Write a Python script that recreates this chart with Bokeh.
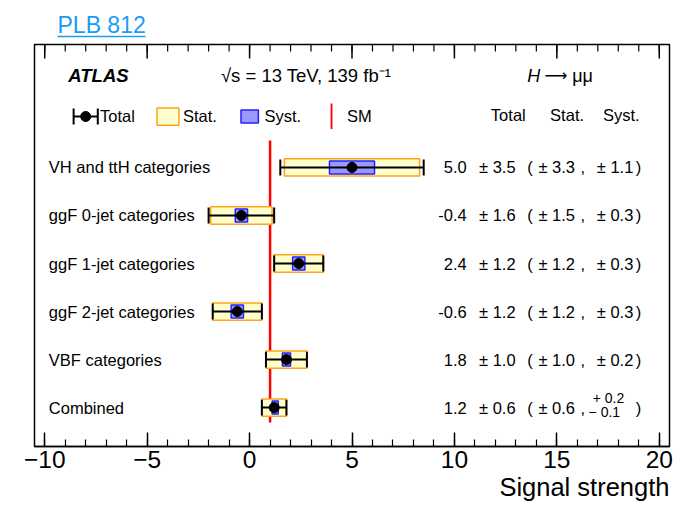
import numpy as np
from bokeh.plotting import figure
from bokeh.models import Range1d, LinearAxis, FixedTicker, Title, ColumnDataSource
from bokeh.layouts import column
from bokeh.core.properties import value
from bokeh.embed import file_html
from bokeh.resources import INLINE

# ---------------- data ----------------
categories = ["VH and ttH categories", "ggF 0-jet categories", "ggF 1-jet categories",
              "ggF 2-jet categories", "VBF categories", "Combined"]
mu = [5.0, -0.4, 2.4, -0.6, 1.8, 1.2]
tot_err = [3.5, 1.6, 1.2, 1.2, 1.0, 0.6]
stat_err = [3.3, 1.5, 1.2, 1.2, 1.0, 0.6]
syst_up = [1.1, 0.3, 0.3, 0.3, 0.2, 0.2]
syst_dn = [1.1, 0.3, 0.3, 0.3, 0.2, 0.1]
sm_value = 1.0
x_ticks = [-10, -5, 0, 5, 10, 15, 20]
x_tick_labels = ["\u221210", "\u22125", "0", "5", "10", "15", "20"]
x_minor_ticks = list(range(-10, 21))

FONT = value("Liberation Sans")
YELLOW = "#ffffcc"
ORANGE = "#ffa31a"
BLUE_FILL = "#9999ff"
BLUE_LINE = "#2222ff"

n = len(categories)
ypos = np.arange(n)[::-1].astype(float)  # rows top to bottom
mu_a = np.array(mu)
tot_a = np.array(tot_err)
stat_a = np.array(stat_err)
su = np.array(syst_up)
sd = np.array(syst_dn)

src = ColumnDataSource(dict(
    y=ypos, mu=mu_a,
    tot_lo=mu_a - tot_a, tot_hi=mu_a + tot_a,
    st_lo=mu_a - stat_a, st_hi=mu_a + stat_a,
    sy_lo=mu_a - sd, sy_hi=mu_a + su,
    st_bot=ypos - 0.18, st_top=ypos + 0.18,
    sy_bot=ypos - 0.135, sy_top=ypos + 0.135,
    cap_bot=ypos - 0.165, cap_top=ypos + 0.165,
    label=categories,
    central=[f"{v:.1f}" for v in mu],
    tot_txt=[f"\u00b1 {v:.1f}" for v in tot_err],
    stat_txt=[f"\u00b1 {v:.1f}" for v in stat_err],
))

# ---------------- top strip with reference link ----------------
# (frame aligned with the main plot's frame: page pixels 34..669)
ptop = figure(width=684, height=40, x_range=Range1d(34, 669), y_range=Range1d(0, 40),
              x_axis_type=None, y_axis_type=None, output_backend="svg",
              toolbar_location=None, min_border=0, min_border_left=34, min_border_right=15)
ptop.outline_line_color = None
ptop.grid.visible = False
LINK = "#1b9cf2"
ptop.text(x=[57], y=[16], text=["PLB 812"], text_font=FONT, text_font_size="23px",
          text_color=LINK, text_baseline="middle", text_align="left")
ptop.segment(x0=[57], y0=[4], x1=[145], y1=[4], line_color=LINK, line_width=1.5)

# ---------------- main figure ----------------
p = figure(width=684, height=479, x_range=Range1d(-10.5, 20.5), y_range=Range1d(-0.81, 7.56),
           x_axis_type=None, y_axis_type=None, output_backend="svg", toolbar_location=None,
           min_border_left=34, min_border_right=15, min_border_top=4, min_border_bottom=73)
p.outline_line_color = "black"
p.outline_line_width = 1.5
p.background_fill_color = "white"
p.border_fill_color = "white"

ticker = FixedTicker(ticks=x_ticks, minor_ticks=x_minor_ticks)
xb = LinearAxis(ticker=ticker, major_label_overrides=dict(zip(x_ticks, x_tick_labels)))
xb.major_tick_in = 14
xb.major_tick_out = 0
xb.minor_tick_in = 7
xb.minor_tick_out = 0
xb.major_label_text_font = "Liberation Sans"
xb.major_label_text_font_size = "24.5px"
xb.major_label_text_color = "black"
xb.major_label_standoff = 4
xb.axis_line_width = 1.5
xb.major_tick_line_width = 1.5
xb.minor_tick_line_width = 1.2
p.add_layout(xb, "below")

p.add_layout(Title(text="Signal strength", align="right", text_font="Liberation Sans",
                   text_font_size="25.5px", text_font_style="normal", text_color="black",
                   standoff=0), "below")

# top-edge ticks (mirror of the bottom axis ticks, pointing inward)
Y_TOP = p.y_range.end
PX = (p.y_range.end - p.y_range.start) / 402.0
p.segment(x0=x_ticks, y0=[Y_TOP] * len(x_ticks), x1=x_ticks, y1=[Y_TOP - 14 * PX] * len(x_ticks),
          line_color="black", line_width=1.5)
p.segment(x0=x_minor_ticks, y0=[Y_TOP] * len(x_minor_ticks), x1=x_minor_ticks,
          y1=[Y_TOP - 7 * PX] * len(x_minor_ticks), line_color="black", line_width=1.2)

# SM line (behind boxes)
p.segment(x0=[sm_value], y0=[-0.31], x1=[sm_value], y1=[5.56], line_color="red", line_width=2.5)

# Stat boxes
p.quad(left="st_lo", right="st_hi", bottom="st_bot", top="st_top", source=src,
       fill_color=YELLOW, line_color=ORANGE, line_width=1.5)
# Syst boxes
p.quad(left="sy_lo", right="sy_hi", bottom="sy_bot", top="sy_top", source=src,
       fill_color=BLUE_FILL, line_color=BLUE_LINE, line_width=1.5)
# Total error bars
p.segment(x0="tot_lo", y0="y", x1="tot_hi", y1="y", source=src, line_color="black", line_width=2)
p.segment(x0="tot_lo", y0="cap_bot", x1="tot_lo", y1="cap_top", source=src, line_color="black", line_width=2)
p.segment(x0="tot_hi", y0="cap_bot", x1="tot_hi", y1="cap_top", source=src, line_color="black", line_width=2)
p.scatter(x="mu", y="y", source=src, size=10, color="black")

# Row labels
TXT = "16.5px"
p.text(x=-9.8, y="y", text="label", source=src, text_font=FONT, text_font_size=TXT,
       text_baseline="middle", text_align="left", text_color="black")

# Value columns
p.text(x=10.6, y="y", text="central", source=src, text_font=FONT, text_font_size=TXT,
       text_baseline="middle", text_align="right")
p.text(x=11.2, y="y", text="tot_txt", source=src, text_font=FONT, text_font_size=TXT,
       text_baseline="middle", text_align="left")
p.text(x=13.55, y="y", text=value("("), source=src, text_font=FONT, text_font_size=TXT,
       text_baseline="middle", text_align="left")
p.text(x=14.1, y="y", text="stat_txt", source=src, text_font=FONT, text_font_size=TXT,
       text_baseline="middle", text_align="left")
p.text(x=16.15, y="y", text=value(","), source=src, text_font=FONT, text_font_size=TXT,
       text_baseline="middle", text_align="left")
p.text(x=18.85, y="y", text=value(")"), source=src, text_font=FONT, text_font_size=TXT,
       text_baseline="middle", text_align="left")

# Syst column: symmetric vs asymmetric
sym_idx = [i for i in range(n) if syst_up[i] == syst_dn[i]]
asym_idx = [i for i in range(n) if syst_up[i] != syst_dn[i]]
p.text(x=[16.95] * len(sym_idx), y=[ypos[i] for i in sym_idx],
       text=[f"\u00b1 {syst_up[i]:.1f}" for i in sym_idx], text_font=FONT, text_font_size=TXT,
       text_baseline="middle", text_align="left")
p.text(x=[16.75] * len(asym_idx), y=[ypos[i] + 0.21 for i in asym_idx],
       text=[f"+ {syst_up[i]:.1f}" for i in asym_idx], text_font=FONT, text_font_size="14px",
       text_baseline="middle", text_align="left")
p.text(x=[16.55] * len(asym_idx), y=[ypos[i] - 0.1 for i in asym_idx],
       text=[f"\u2212 {syst_dn[i]:.1f}" for i in asym_idx], text_font=FONT, text_font_size="14px",
       text_baseline="middle", text_align="left")

# Header texts
p.text(x=[-8.85], y=[6.92], text=["ATLAS"], text_font=FONT, text_font_size="18.5px",
       text_font_style="bold italic", text_baseline="middle", text_align="left")
p.text(x=[-1.4], y=[6.92], text=["\u221as = 13 TeV,  139 fb\u207b\u00b9"], text_font=FONT,
       text_font_size="18.5px", text_baseline="middle", text_align="left")
p.text(x=[13.55], y=[6.9], text=["H"], text_font=FONT, text_font_size="18px",
       text_font_style="italic", text_baseline="middle", text_align="left")
p.text(x=[14.4], y=[6.92], text=["\u27f6"], text_font=value("DejaVu Sans"), text_font_size="16px",
       text_baseline="middle", text_align="left")
p.text(x=[15.75], y=[6.9], text=["\u03bc\u03bc"], text_font=FONT, text_font_size="18px",
       text_baseline="middle", text_align="left")

# Legend row (drawn manually)
LY = 6.06
p.segment(x0=[-8.59], y0=[LY], x1=[-7.41], y1=[LY], line_color="black", line_width=2)
p.segment(x0=[-8.59, -7.41], y0=[LY - 0.165] * 2, x1=[-8.59, -7.41], y1=[LY + 0.165] * 2,
          line_color="black", line_width=2)
p.scatter(x=[-8.0], y=[LY], size=10, color="black")
p.quad(left=[-4.52], right=[-3.45], bottom=[LY - 0.18], top=[LY + 0.18],
       fill_color=YELLOW, line_color=ORANGE, line_width=1.5)
p.quad(left=[-0.42], right=[0.43], bottom=[LY - 0.135], top=[LY + 0.135],
       fill_color=BLUE_FILL, line_color=BLUE_LINE, line_width=1.5)
p.segment(x0=[4.0], y0=[LY - 0.26], x1=[4.0], y1=[LY + 0.27], line_color="red", line_width=1.8)
p.text(x=[-7.3, -3.25, 0.73, 4.75], y=[LY + 0.02] * 4, text=["Total", "Stat.", "Syst.", "SM"],
       text_font=FONT, text_font_size=TXT, text_baseline="middle", text_align="left")

# Column headers
p.text(x=[12.63, 15.5, 18.15], y=[6.1] * 3, text=["Total", "Stat.", "Syst."],
       text_font=FONT, text_font_size=TXT, text_baseline="middle", text_align="center")

layout = column(ptop, p, spacing=0)
open("out.html", "w").write(file_html(layout, INLINE))
